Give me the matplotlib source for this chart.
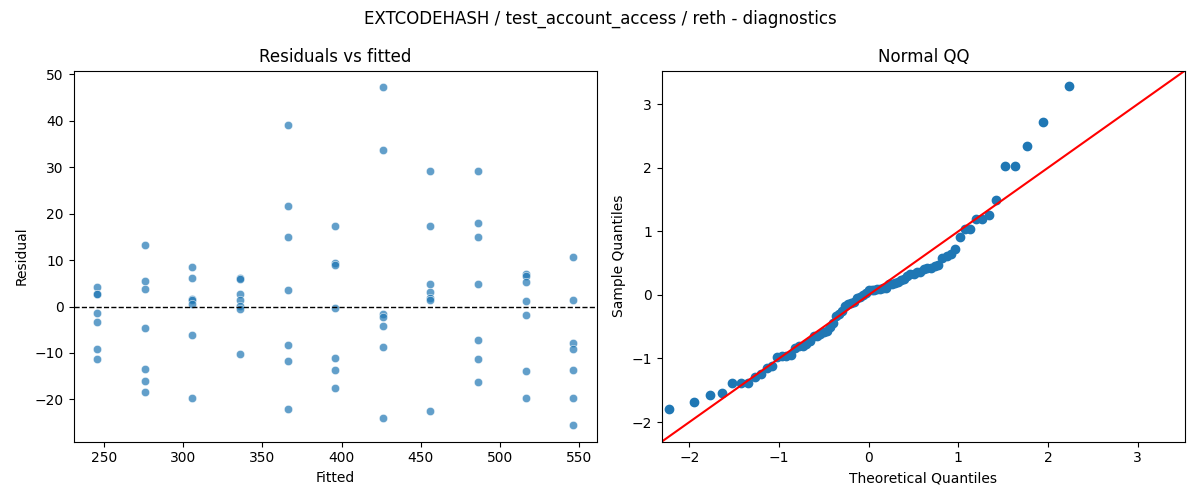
import numpy as np
import matplotlib
matplotlib.use("Agg")
import matplotlib.pyplot as plt
import seaborn as sns
from statistics import NormalDist

# fitted value of each group and the residuals
fitted_levels = [246, 276, 306, 336, 366, 396, 426, 456, 486, 516, 546]
res_246 = [4.3, 2.8, 2.6, -1.4, -3.4, -9.1, -11.3]
res_276 = [13.3, 5.4, 3.7, -4.7, -13.5, -16.0, -18.4]
res_306 = [8.5, 6.1, 1.7, 1.3, 0.6, -6.2, -19.7]
res_336 = [6.2, 5.9, 2.7, 1.4, 0.2, -0.6, -10.3]
res_366 = [39.2, 21.6, 15.0, 3.5, -8.3, -11.8, -22.0]
res_396 = [17.3, 9.3, 9.0, -0.4, -11.0, -13.7, -17.6]
res_426 = [47.2, 33.8, -1.6, -2.3, -4.2, -8.7, -24.0]
res_456 = [29.3, 17.3, 4.8, 3.1, 1.8, 1.3, -22.5]
res_486 = [29.2, 18.1, 14.9, 4.8, -7.2, -11.3, -16.3]
res_516 = [6.9, 6.6, 5.2, 1.2, -1.9, -13.9, -19.7]
res_546 = [10.6, 1.4, -7.9, -9.1, -13.7, -19.7, -25.5]

groups = [res_246, res_276, res_306, res_336, res_366, res_396,
          res_426, res_456, res_486, res_516, res_546]

fitted = np.concatenate([[f] * len(g) for f, g in zip(fitted_levels, groups)])
resid = np.concatenate(groups)

# normal QQ of the standardized residuals
z = np.sort((resid - resid.mean()) / resid.std())
n = len(z)
theo = np.array([NormalDist().inv_cdf(i / (n + 1)) for i in range(1, n + 1)])

fig, (ax1, ax2) = plt.subplots(1, 2, figsize=(12, 5), dpi=100)

sns.scatterplot(x=fitted, y=resid, ax=ax1, alpha=0.7)
ax1.axhline(0, color="black", linestyle="--", linewidth=1)
ax1.set_title("Residuals vs fitted")
ax1.set_xlabel("Fitted")
ax1.set_ylabel("Residual")

ax2.plot(theo, z, "o", color="C0", markersize=6)
lims = (-2.31, 3.53)
ax2.plot(lims, lims, "r-")
ax2.set_xlim(lims)
ax2.set_ylim(lims)
ax2.set_title("Normal QQ")
ax2.set_xlabel("Theoretical Quantiles")
ax2.set_ylabel("Sample Quantiles")

fig.suptitle("EXTCODEHASH / test_account_access / reth - diagnostics")
plt.tight_layout()
plt.savefig("out.png", dpi=100)
